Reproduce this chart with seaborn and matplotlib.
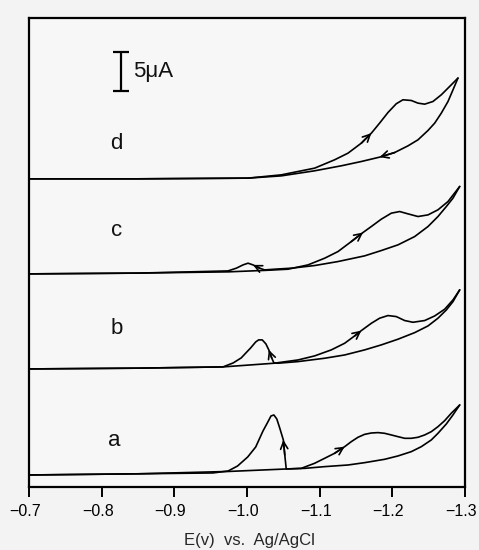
import numpy as np
import pandas as pd
import matplotlib
matplotlib.use("Agg")
import matplotlib.pyplot as plt
from matplotlib.transforms import ScaledTranslation
import seaborn as sns

# ---------------- data (E in V, current in uA relative to each trace's baseline) -------------
curves = ["a", "b", "c", "d"]
offsets = [1.54, 15.13, 27.31, 39.49]           # baseline of each trace (uA)
label_E = [-0.818, -0.821, -0.821, -0.820]
label_I = [6.0, 20.3, 32.9, 44.0]

# curve a
a_fwd_E = [-0.70, -0.85, -0.974, -1.054, -1.0747, -1.0931, -1.1069, -1.1206, -1.1344, -1.1435,
           -1.1527, -1.1619, -1.1711, -1.1803, -1.1894, -1.1986, -1.2078, -1.2170, -1.2261,
           -1.2353, -1.2445, -1.2536, -1.2628, -1.2720, -1.2811, -1.2927]
a_fwd_I = [0.0, 0.15, 0.45, 0.77, 0.85, 1.50, 2.14, 2.78, 3.63, 4.27,
           4.83, 5.21, 5.38, 5.43, 5.34, 5.13, 4.91, 4.70, 4.70,
           4.83, 5.13, 5.55, 6.19, 6.96, 7.91, 8.97]
a_rev_E = [-1.2927, -1.2834, -1.2743, -1.2628, -1.2536, -1.2399, -1.2261, -1.2078, -1.1894,
           -1.1619, -1.1390, -1.1069, -1.0794, -1.054, -1.052, -1.050, -1.045, -1.041, -1.037,
           -1.033, -1.028, -1.022, -1.012, -1.001, -0.987, -0.974, -0.953, -0.85, -0.70]
a_rev_I = [8.97, 7.69, 6.54, 5.34, 4.49, 3.63, 2.99, 2.44, 2.01,
           1.58, 1.28, 1.07, 0.85, 0.77, 2.56, 4.49, 6.03, 7.18, 7.69,
           7.56, 6.67, 5.64, 3.59, 2.31, 1.15, 0.51, 0.26, 0.15, 0.0]

# curve b
b_fwd_E = [-0.70, -0.85, -0.967, -1.0371, -1.0702, -1.0931, -1.1160, -1.1344, -1.1481, -1.1573,
           -1.1711, -1.1825, -1.1940, -1.2054, -1.2170, -1.2284, -1.2445, -1.2583, -1.2720,
           -1.2835, -1.2927]
b_fwd_I = [0.0, 0.10, 0.26, 0.73, 1.15, 1.67, 2.44, 3.29, 4.23, 4.91,
           5.85, 6.50, 6.84, 6.71, 6.20, 5.98, 6.20, 6.79, 7.65,
           8.85, 10.13]
b_rev_E = [-1.2927, -1.2835, -1.2743, -1.2628, -1.2491, -1.2307, -1.2078, -1.1848, -1.1619,
           -1.1344, -1.1069, -1.0702, -1.0426, -1.037, -1.034, -1.030, -1.026, -1.021, -1.016,
           -1.012, -1.005, -0.992, -0.981, -0.967, -0.85, -0.70]
b_rev_I = [10.13, 8.63, 7.56, 6.50, 5.51, 4.65, 3.81, 3.08, 2.44,
           1.79, 1.37, 0.94, 0.73, 0.77, 1.41, 2.44, 3.21, 3.72, 3.72,
           3.46, 2.69, 1.41, 0.77, 0.26, 0.10, 0.0]

# curve c
c_fwd_E = [-0.70, -0.85, -0.974, -1.025, -1.0564, -1.0839, -1.1069, -1.1252, -1.1435, -1.1596,
           -1.1711, -1.1848, -1.1986, -1.2101, -1.2216, -1.2353, -1.2491, -1.2628, -1.2766,
           -1.2927]
c_fwd_I = [0.0, 0.10, 0.26, 0.45, 0.60, 1.15, 2.01, 2.86, 4.14, 5.30,
           6.07, 7.01, 7.78, 7.99, 7.69, 7.35, 7.56, 8.21, 9.27,
           11.20]
c_rev_E = [-1.2927, -1.2834, -1.2743, -1.2628, -1.2491, -1.2307, -1.2078, -1.1848, -1.1619,
           -1.1252, -1.0931, -1.0610, -1.0381, -1.0243, -1.0174, -1.0083, -1.0014, -0.9945,
           -0.9853, -0.9738, -0.85, -0.70]
c_rev_I = [11.20, 9.70, 8.63, 7.35, 6.07, 4.78, 3.72, 2.99, 2.31,
           1.58, 1.07, 0.73, 0.60, 0.51, 0.73, 1.15, 1.37, 1.15,
           0.73, 0.38, 0.10, 0.0]

# curve d
d_fwd_E = [-0.70, -0.85, -1.0014, -1.0472, -1.0931, -1.1206, -1.1390, -1.1573, -1.1711, -1.1825,
           -1.1940, -1.2054, -1.2146, -1.2261, -1.2353, -1.2445, -1.2559, -1.2674, -1.2789,
           -1.2903]
d_fwd_I = [0.0, 0.0, 0.09, 0.51, 1.37, 2.44, 3.29, 4.57, 5.85, 7.14,
           8.50, 9.62, 10.13, 10.04, 9.70, 9.57, 9.91, 10.77, 11.84,
           12.91]
d_rev_E = [-1.2903, -1.2835, -1.2766, -1.2674, -1.2583, -1.2491, -1.2353, -1.2216, -1.2032,
           -1.1825, -1.1573, -1.1298, -1.0931, -1.0472, -1.0014, -0.85, -0.70]
d_rev_I = [12.91, 11.41, 9.91, 8.42, 7.14, 6.20, 5.00, 4.23, 3.37,
           2.78, 2.22, 1.67, 1.03, 0.38, 0.09, 0.0, 0.0]

# arrows: (curve, branch, index of arrow head in that branch)
arrows = [("a", "fwd", 8), ("a", "rev", 15), ("b", "fwd", 9), ("b", "rev", 15),
          ("c", "fwd", 9), ("c", "rev", 15), ("d", "fwd", 8), ("d", "rev", 9)]

x_ticks = [-0.7, -0.8, -0.9, -1.0, -1.1, -1.2, -1.3]
x_label = "E(v)  vs.  Ag/AgCl"
scale_uA = 5
scale_E = -0.827
scale_mid = 53.27
scale_text = "5μA"

# ---------------- build table ----------------
branches = {
    "a": {"fwd": (a_fwd_E, a_fwd_I), "rev": (a_rev_E, a_rev_I)},
    "b": {"fwd": (b_fwd_E, b_fwd_I), "rev": (b_rev_E, b_rev_I)},
    "c": {"fwd": (c_fwd_E, c_fwd_I), "rev": (c_rev_E, c_rev_I)},
    "d": {"fwd": (d_fwd_E, d_fwd_I), "rev": (d_rev_E, d_rev_I)},
}
rows = []
for name, off in zip(curves, offsets):
    for br, (E, I) in branches[name].items():
        for e, i in zip(E, I):
            rows.append({"trace": f"{name}-{br}", "E": e, "I": i + off})
df = pd.DataFrame(rows)

# ---------------- plot ----------------
sns.set_theme(style="white")
plt.rcParams["font.family"] = ["Liberation Sans", "DejaVu Sans"]

fig = plt.figure(figsize=(4.79, 5.50), dpi=100, facecolor="#f3f3f3")
ax = fig.add_axes([29 / 479, 63 / 550, 436 / 479, 469 / 550])
ax.set_facecolor("#f7f7f7")

sns.lineplot(data=df, x="E", y="I", units="trace", estimator=None, sort=False,
             color="black", lw=1.2, ax=ax, legend=False)
for ln in ax.get_lines():
    ln.set_solid_joinstyle("round")
    ln.set_solid_capstyle("round")

off_map = dict(zip(curves, offsets))
for name, br, k in arrows:
    E, I = branches[name][br]
    o = off_map[name]
    ax.annotate("", xy=(E[k], I[k] + o), xytext=(E[k - 1], I[k - 1] + o),
                arrowprops=dict(arrowstyle="->", color="black", lw=1.2,
                                mutation_scale=13, shrinkA=0, shrinkB=0))

for name, le, li in zip(curves, label_E, label_I):
    ax.text(le, li, name, fontsize=16, ha="center", va="center", color="#111111")

# scale bar
ax.errorbar([scale_E], [scale_mid], yerr=scale_uA / 2, color="black", lw=1.6,
            capsize=5.5, capthick=1.6)
ax.text(scale_E - 0.016, scale_mid, scale_text, fontsize=16, ha="left", va="center",
        color="#111111")

ax.set_xlim(-0.7, -1.3)
ax.set_ylim(0, 60.1)
ax.set_xticks(x_ticks)
ax.set_xticklabels([])
# tick labels (drawn slightly left of their ticks, as in the original scan)
lab_trans = ax.get_xaxis_transform() + ScaledTranslation(-4 / 100, -25 / 100, fig.dpi_scale_trans)
for t in x_ticks:
    ax.text(t, 0, f"{t:.1f}".replace("-", "\u2212"), transform=lab_trans,
            ha="center", va="center", fontsize=11.5, color="black", clip_on=False)
ax.set_yticks([])
ax.set_xlabel(x_label, fontsize=12)
ax.xaxis.set_label_coords(0.505, -0.098)
ax.set_ylabel("")
ax.tick_params(axis="x", direction="out", length=7, width=1.4, colors="black", bottom=True)
for s in ax.spines.values():
    s.set_color("black")
    s.set_linewidth(1.6)

fig.savefig("out.png", dpi=100, facecolor=fig.get_facecolor())
